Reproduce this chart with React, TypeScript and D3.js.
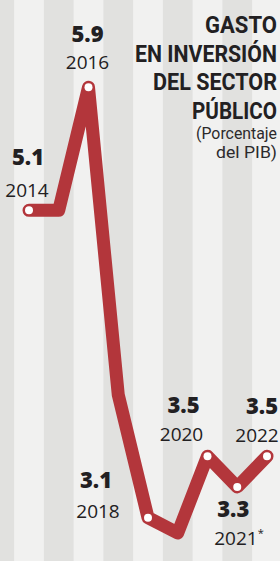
import React, { useEffect, useRef } from 'react';
import * as d3 from 'd3';

// Gasto en inversión del sector público (% del PIB)
const years = [2014, 2015, 2016, 2017, 2018, 2019, 2020, 2021, 2022];
const values = [5.1, 5.1, 5.9, 3.9, 3.1, 3.0, 3.5, 3.3, 3.5];

// points that carry a marker and a label
const labelledYears = [2014, 2016, 2018, 2020, 2021, 2022];
const yearLabels = ['2014', '2016', '2018', '2020', '2021', '2022'];
const estimatedYears = [2021];

const titleLines = ['GASTO', 'EN INVERSIÓN', 'DEL SECTOR', 'PÚBLICO'];
const subtitleLines = ['(Porcentaje', 'del PIB)'];

// label placement relative to each marker
const labelLayout: Record<number, { vDx: number; yDx: number; vDy: number; yDy: number }> = {
  2014: { vDx: -1, yDx: -2, vDy: -45, yDy: -13 },
  2016: { vDx: -1, yDx: -1, vDy: -45, yDy: -18 },
  2018: { vDx: -52, yDx: -50, vDy: -30, yDy: 0 },
  2020: { vDx: -24, yDx: -26, vDy: -43, yDy: -15 },
  2021: { vDx: -4, yDx: -2, vDy: 30, yDy: 58 },
  2022: { vDx: -5, yDx: -10, vDy: -42, yDy: -14 },
};

const W = 280;
const H = 561;
const RED = '#b3363b';
const INK = '#222022';

const App = () => {
  const headRef = useRef<SVGGElement>(null);

  const x = d3.scaleLinear().domain([2014, 2022]).range([29, 267]);
  const y = d3.scaleLinear().domain([3, 6]).range([533, 72]);

  const data = years.map((yr, i) => ({ year: yr, value: values[i] }));
  const line = d3
    .line<{ year: number; value: number }>()
    .x(d => x(d.year))
    .y(d => y(d.value));

  // alternating paper columns on odd years
  const bandYears = d3.range(2013, 2024, 2);
  const bandW = x(2015) - x(2014);

  const valueOf = (yr: number) => values[years.indexOf(yr)];

  // squeeze the heading lines horizontally to the condensed widths of the print
  useEffect(() => {
    if (!headRef.current) return;
    d3.select(headRef.current)
      .selectAll<SVGTextElement, unknown>('text[data-w]')
      .each(function () {
        const target = +(this.getAttribute('data-w') || 0);
        const len = this.getComputedTextLength();
        if (len > 0) d3.select(this).attr('transform', `scale(${target / len},1)`);
      });
  }, []);

  return (
    <svg
      width={W}
      height={H}
      style={{ position: 'absolute', left: 0, top: 0, display: 'block' }}
    >
      <rect width={W} height={H} fill="#f1f1f0" />
      {bandYears.map(b => (
        <rect
          key={b}
          x={x(b) - bandW / 2}
          y={0}
          width={bandW}
          height={H}
          fill="#e1e1df"
        />
      ))}

      <g
        ref={headRef}
        fontFamily="Roboto, 'Liberation Sans', sans-serif"
        fill={INK}
        textAnchor="end"
      >
        {titleLines.map((t, i) => (
          <g key={t} transform={`translate(277,${33 + i * 28.5})`}>
            <text fontSize={23} fontWeight={700} data-w={[72, 142, 124, 85][i]}>
              {t}
            </text>
          </g>
        ))}
        {subtitleLines.map((t, i) => (
          <g key={t} transform={`translate(277,${139 + i * 19})`}>
            <text fontSize={16} fill="#2c2a2c" data-w={[81, 61][i]}>
              {t}
            </text>
          </g>
        ))}
      </g>

      <path
        d={line(data) || ''}
        fill="none"
        stroke={RED}
        strokeWidth={13}
        strokeLinejoin="round"
        strokeLinecap="round"
      />

      {labelledYears.map(yr => (
        <circle key={yr} cx={x(yr)} cy={y(valueOf(yr))} r={4} fill="#fff" />
      ))}

      <g fontFamily="'Open Sans', 'DejaVu Sans', sans-serif" fill={INK}>
        {labelledYears.map((yr, i) => {
          const v = valueOf(yr);
          const l = labelLayout[yr];
          const cy = y(v);
          const est = estimatedYears.includes(yr);
          return (
            <g key={yr}>
              <text
                x={x(yr) + l.vDx}
                y={cy + l.vDy}
                fontSize={22}
                fontWeight={800}
                textAnchor="middle"
              >
                {d3.format('.1f')(v)}
              </text>
              {est ? (
                <text x={x(yr) + l.yDx - 21} y={cy + l.yDy} fontSize={19} textAnchor="start">
                  {yearLabels[i]}
                  <tspan fontSize={11} dy={-8}>*</tspan>
                </text>
              ) : (
                <text x={x(yr) + l.yDx} y={cy + l.yDy} fontSize={19} textAnchor="middle">
                  {yearLabels[i]}
                </text>
              )}
            </g>
          );
        })}
      </g>
    </svg>
  );
};

export default App;
